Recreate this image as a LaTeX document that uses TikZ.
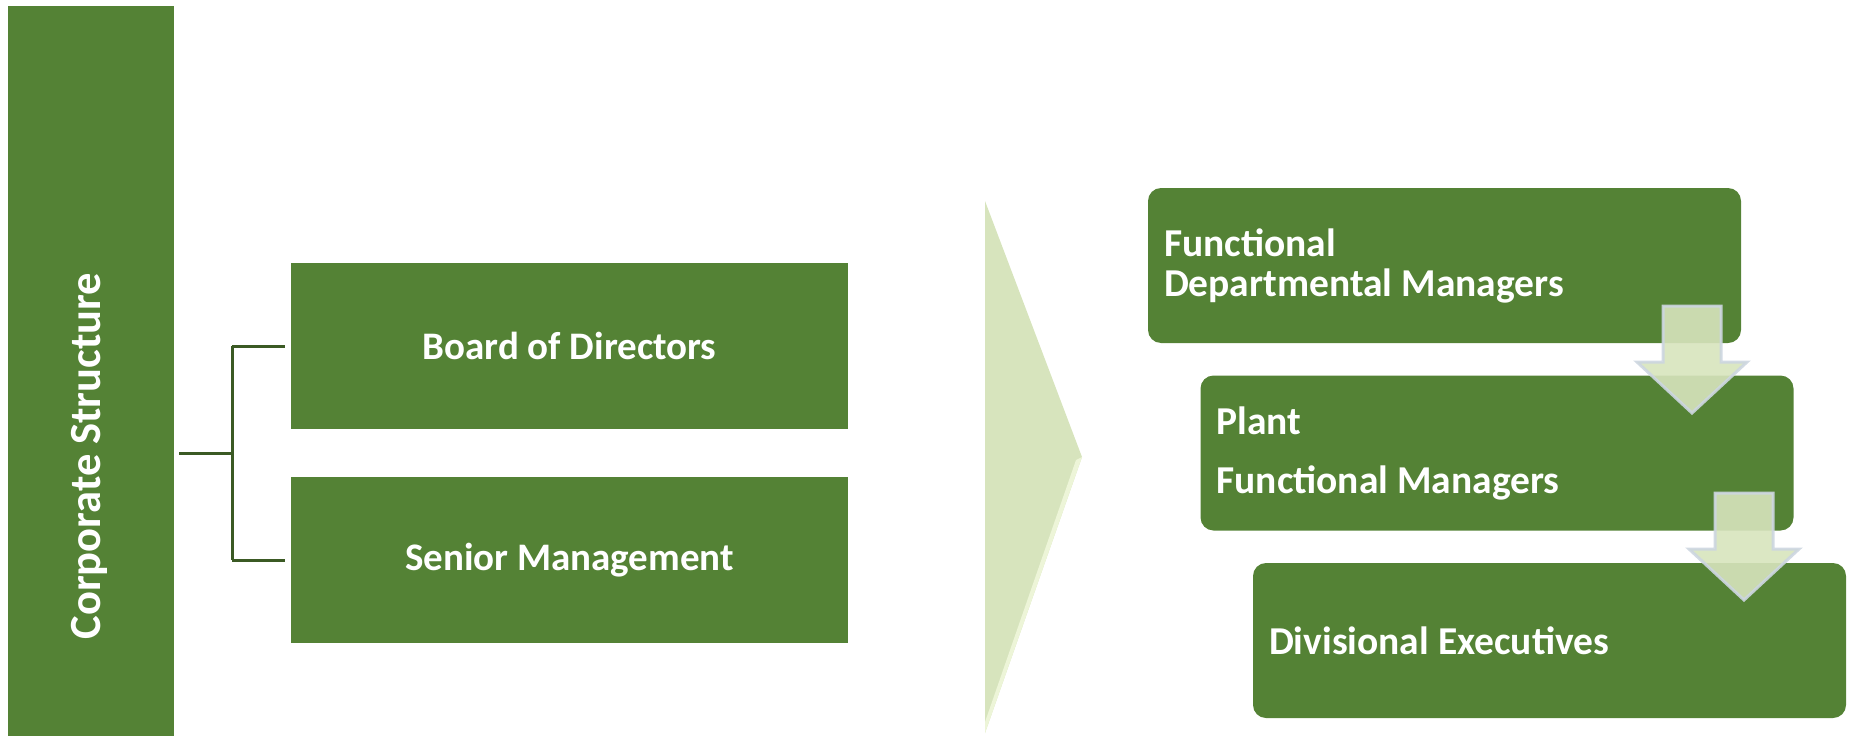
\documentclass[tikz,border=0pt]{standalone}
\usepackage{fontspec}
\setmainfont{Carlito}
\definecolor{mgreen}{HTML}{548235}
\definecolor{dgreen}{HTML}{3B5A24}
\definecolor{lgreen}{HTML}{D7E4BD}
\definecolor{hgreen}{HTML}{EDF5D8}
\definecolor{afill}{HTML}{D7E4BD}
\definecolor{aline}{HTML}{CDD6E0}
\begin{document}
\begin{tikzpicture}[x=1pt,y=-1pt,
  sqbox/.style={fill=mgreen,draw=none,minimum width=557pt,minimum height=166pt,inner sep=0pt,
    text=white,font=\bfseries\fontsize{39}{46}\selectfont},
  rbox/.style={fill=mgreen,draw=none,rounded corners=13pt,minimum height=155pt,text width=561pt,
    inner xsep=16pt,inner ysep=0pt,align=flush left,text=white,font=\bfseries\fontsize{39.5}{40}\selectfont},
  conn/.style={draw=dgreen,line width=3pt},
  darrow/.style={fill=afill,fill opacity=0.9,draw=aline,draw opacity=0.9,line width=3pt,line join=miter}]
\useasboundingbox (0,0) rectangle (1856,736);
% left bar
\node[fill=mgreen,minimum width=166pt,minimum height=730pt,inner sep=0pt] (bar) at (91,371) {};
\node[rotate=90,text=white,font=\bfseries\fontsize{44.5}{50}\selectfont] (bartext) at (89,456) {Corporate Structure};
% left boxes
\node[sqbox] (board) at (569.5,346) {Board of Directors};
\node[sqbox] (senior) at (569.5,560) {Senior Management};
% connector
\coordinate (mid) at (232,453);
\draw[conn] ([xshift=5pt]bar.east |- mid) -- (mid);
\draw[conn] (mid |- board.west) -- (mid |- senior.west);
\draw[conn] (mid |- board.west) -- ([xshift=-6pt]board.west);
\draw[conn] (mid |- senior.west) -- ([xshift=-6pt]senior.west);
% triangle
\fill[lgreen] (985,201) -- (1082,457) -- (985,733) -- cycle;
\fill[hgreen] (1082,457) -- (985,733) -- (985,722) -- (1076,460) -- cycle;
% right boxes
\node[rbox] (f1) at (1444.5,265.5) {Functional\\Departmental Managers};
\node[rbox] (f2) at (1497,453) {Plant\\[19pt]Functional Managers};
\node[rbox] (f3) at (1549.5,640.5) {Divisional Executives};
% arrows
\begin{scope}[shift={(1692,305)}]
\draw[darrow] (-29,1) -- (29,1) -- (29,57) -- (55,57) -- (0,108) -- (-55,57) -- (-29,57) -- cycle;
\end{scope}
\begin{scope}[shift={(1744,492)}]
\draw[darrow] (-29,1) -- (29,1) -- (29,57) -- (55,57) -- (0,108) -- (-55,57) -- (-29,57) -- cycle;
\end{scope}
\end{tikzpicture}
\end{document}
